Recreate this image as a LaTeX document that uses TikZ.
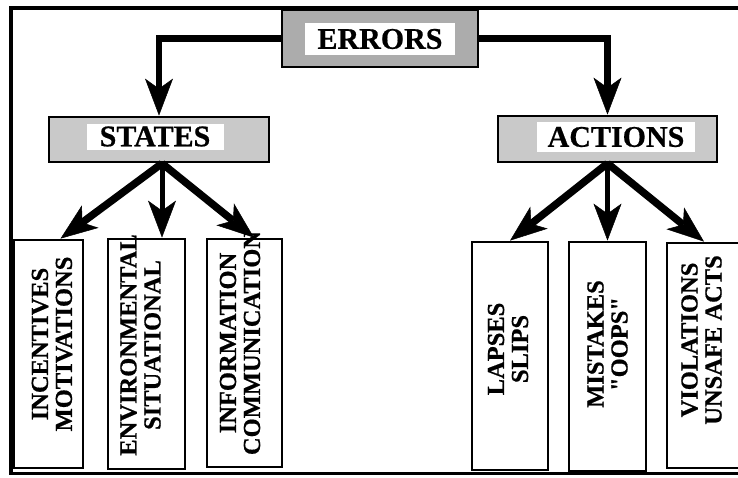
\documentclass[tikz,border=0pt]{standalone}
\usepackage{fontspec}
\setmainfont{Liberation Serif}[Ligatures=TeXOff,BoldFeatures={FakeBold=0.6}]
\usetikzlibrary{arrows.meta,calc}
\begin{document}
\begin{tikzpicture}[x=1pt,y=-1pt,
  hdr/.style={draw=black,line width=2.8pt,fill=gray!45,inner sep=0pt},
  hdrtxt/.style={fill=white,inner sep=0pt,font=\fontsize{30}{30}\selectfont\bfseries},
  leaf/.style={draw=black,line width=2.8pt,inner sep=0pt,fill=white},
  leaftxt/.style={rotate=90,align=center,inner sep=0pt,font=\fontsize{24.5}{24}\selectfont\bfseries},
  arr/.style={line width=6.5pt,line join=miter,-{Stealth[length=37pt,width=28pt,inset=10pt,line width=0.5pt]}},
  arrd/.style={arr,line width=7.5pt},
  arrv/.style={arr,line width=5pt},
  frame/.style={line width=4pt,line join=miter}
]
\clip (0,0) rectangle (738,477);
% frame
\draw[frame] (738,8) -- (11,8) -- (11,473);
\draw[line width=3pt] (9,473) -- (738,473);
% header boxes
\node[hdr,fill=gray!65,minimum width=196pt,minimum height=57pt] (e) at (380,38.5) {};
\node[hdrtxt,minimum width=150pt,minimum height=32pt] (et) at (380,39) {ERRORS};
\node[hdr,fill=gray!42,minimum width=220pt,minimum height=45pt] (s) at (159,139.5) {};
\node[hdrtxt,minimum width=137pt,minimum height=26pt] (st) at (155,136.5) {STATES};
\node[hdr,fill=gray!42,minimum width=219pt,minimum height=46pt] (a) at (607.5,139) {};
\node[hdrtxt,minimum width=158pt,minimum height=30pt] (at) at (616,137) {ACTIONS};
% leaf boxes
\node[leaf,minimum width=69pt,minimum height=228pt] (b1) at (48.5,354) {};
\node[leaf,minimum width=77pt,minimum height=230pt] (b2) at (146.5,354) {};
\node[leaf,minimum width=75pt,minimum height=228pt] (b3) at (244.5,353) {};
\node[leaf,minimum width=76pt,minimum height=228pt] (b4) at (510,356) {};
\node[leaf,minimum width=77pt,minimum height=229pt] (b5) at (607.5,356.5) {};
\node[leaf,minimum width=78pt,minimum height=225pt] (b6) at (706,355.5) {};
% leaf texts
\node[leaftxt] (t1) at (52,344) {INCENTIVES\\MOTIVATIONS};
\node[leaftxt] (t2) at (140.5,345) {ENVIRONMENTAL\\SITUATIONAL};
\node[leaftxt] (t3) at (240,343) {INFORMATION\\COMMUNICATION};
\node[leaftxt] (t4) at (508,349) {LAPSES\\SLIPS};
\node[leaftxt] (t5) at (607.5,344) {MISTAKES\\"OOPS"};
\node[leaftxt] (t6) at (701.5,340) {VIOLATIONS\\UNSAFE ACTS};
% connectors
\draw[arr] (e.west) -| (s.north);
\draw[arr] (e.east) -| (a.north);
\draw[arrd] ($(s.south)+(3,0)$) -- ($(b1.north)+(12,0)$);
\draw[arrv] ($(s.south)+(3,0)$) -- ($(b2.north)+(15.5,0)$);
\draw[arrd] ($(s.south)+(3,0)$) -- ($(b3.north)+(9.5,0)$);
\draw[arrd] (a.south) -- (b4.north);
\draw[arrv] (a.south) -- (b5.north);
\draw[arrd] (a.south) -- ($(b6.north)+(-2,0)$);
\end{tikzpicture}
\end{document}
